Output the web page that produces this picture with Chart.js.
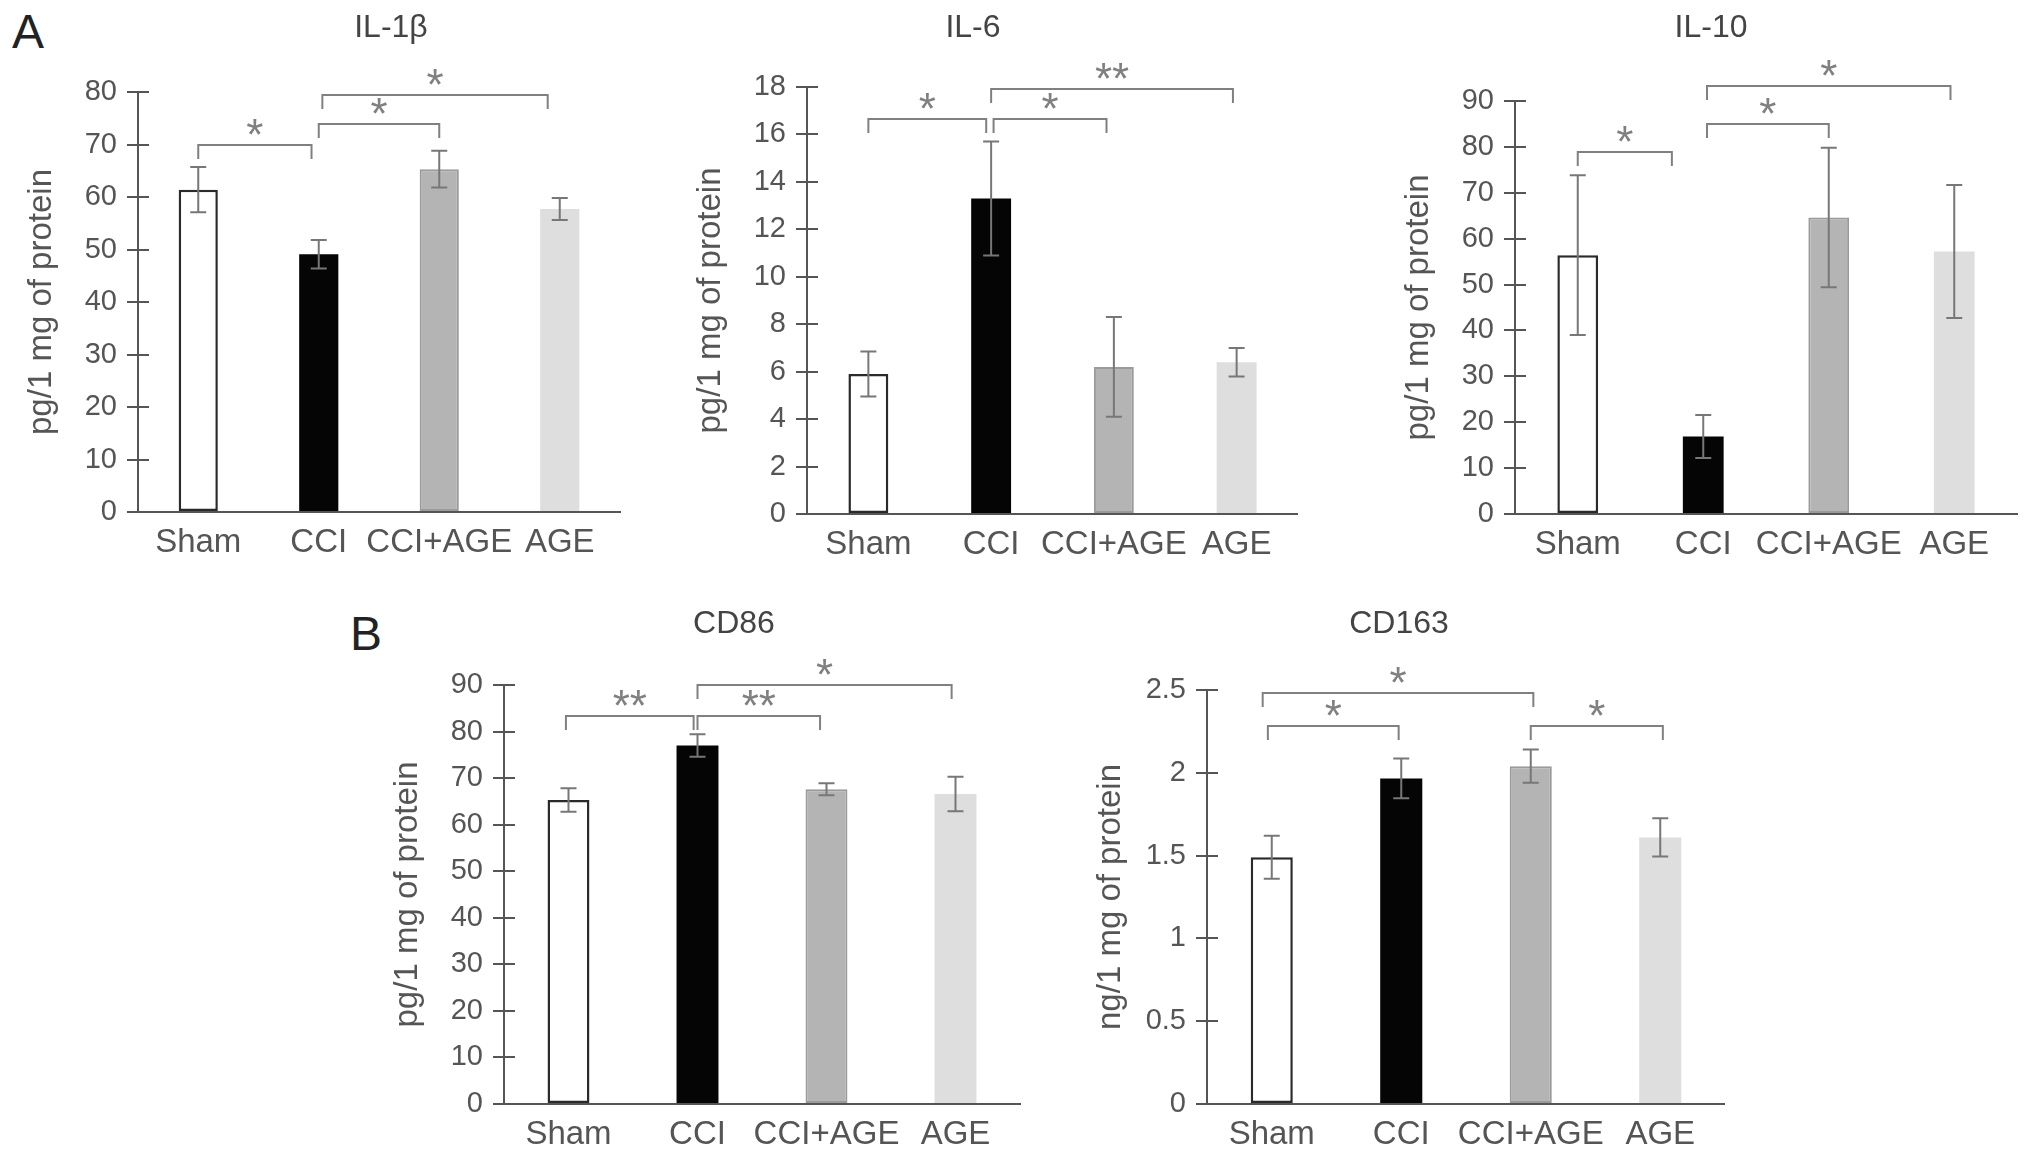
<!DOCTYPE html>
<html>
<head>
<meta charset="utf-8">
<script src="https://cdn.jsdelivr.net/npm/chart.js@4.4.1/dist/chart.umd.min.js"></script>
<style>
html, body { margin: 0; padding: 0; background: #fff; }
body { width: 2032px; height: 1158px; position: relative; overflow: hidden; font-family: "Liberation Sans", Arial, sans-serif; }
.panel { position: absolute; }
.tag { position: absolute; font-size: 48px; line-height: 48px; color: #222; }
</style>
</head>
<body>
<div class="tag" style="left:12px;top:8px">A</div>
<div class="tag" style="left:350px;top:610px">B</div>
<div class="panel"><canvas id="il1b"></canvas></div>
<div class="panel"><canvas id="il6"></canvas></div>
<div class="panel"><canvas id="il10"></canvas></div>
<div class="panel"><canvas id="cd86"></canvas></div>
<div class="panel"><canvas id="cd163"></canvas></div>
<script>
//----- DATA -----//
const groups = ['Sham', 'CCI', 'CCI+AGE', 'AGE'];

const il1bMean = [61.4, 49.1, 65.3, 57.7];
const il1bErr = [4.3, 2.7, 3.5, 2.1];

const il6Mean = [5.9, 13.3, 6.2, 6.4];
const il6Err = [0.95, 2.4, 2.1, 0.6];

const il10Mean = [56.4, 16.9, 64.6, 57.2];
const il10Err = [17.4, 4.7, 15.2, 14.5];

const cd86Mean = [65.3, 77.0, 67.6, 66.6];
const cd86Err = [2.5, 2.4, 1.3, 3.7];

const cd163Mean = [1.49, 1.966, 2.04, 1.61];
const cd163Err = [0.13, 0.12, 0.10, 0.115];

// significance brackets: [from, to, height, label, shiftFrom, shiftTo]
const il1bSig = [[0, 1, 70.0, '*', 0, -0.06], [1, 2, 73.9, '*'], [1, 3, 79.4, '*', 0.03, -0.1]];
const il6Sig = [[0, 1, 16.66, '*', 0, -0.04], [1, 2, 16.66, '*', 0.02, -0.06], [1, 3, 17.9, '**', 0, -0.03]];
const il10Sig = [[0, 1, 78.9, '*', 0, -0.25], [1, 2, 84.9, '*', 0.03, 0], [1, 3, 93.2, '*', 0.03, -0.03]];
const cd86Sig = [[0, 1, 83.4, '**', -0.02, -0.03], [1, 2, 83.4, '**', 0, -0.05], [1, 3, 90.1, '*', 0, -0.03]];
const cd163Sig = [[0, 1, 2.28, '*', -0.03, -0.02], [0, 2, 2.48, '*', -0.07, 0.02], [2, 3, 2.28, '*', 0, 0.02]];

//----- STYLE -----//
const fontName = '"Liberation Sans", Arial, sans-serif';
const axisColor = '#555';
const barFill = ['#ffffff', '#050505', '#b4b4b4', '#dedede'];
const barEdge = ['#2a2a2a', '#050505', '#9a9a9a', '#dedede'];
const barEdgeWidth = [2.5, 0, 2, 0];

//----- PLUGIN: inner ticks, error bars, brackets -----//
const extras = {
    id: 'extras',
    afterDatasetsDraw(chart, args, opts) {
        const ctx = chart.ctx;
        const x = chart.scales.x;
        const y = chart.scales.y;
        const area = chart.chartArea;
        const meta = chart.getDatasetMeta(0);
        const values = chart.data.datasets[0].data;
        ctx.save();

        // ticks cross the axis
        ctx.strokeStyle = axisColor;
        ctx.lineWidth = 2;
        y.ticks.forEach(t => {
            const py = Math.round(y.getPixelForValue(t.value));
            ctx.beginPath();
            ctx.moveTo(area.left, py);
            ctx.lineTo(area.left + 11, py);
            ctx.stroke();
        });

        // error bars
        ctx.strokeStyle = '#777';
        opts.errors.forEach((e, i) => {
            const bx = meta.data[i].x;
            const hi = y.getPixelForValue(values[i] + e);
            const lo = y.getPixelForValue(values[i] - e);
            ctx.beginPath();
            ctx.moveTo(bx, hi); ctx.lineTo(bx, lo);
            ctx.moveTo(bx - 8, hi); ctx.lineTo(bx + 8, hi);
            ctx.moveTo(bx - 8, lo); ctx.lineTo(bx + 8, lo);
            ctx.stroke();
        });

        // brackets with stars
        ctx.strokeStyle = '#808080';
        ctx.fillStyle = '#808080';
        ctx.font = '44px ' + fontName;
        ctx.textAlign = 'center';
        ctx.textBaseline = 'alphabetic';
        const m = ctx.measureText('*');
        const lift = (m.actualBoundingBoxAscent - m.actualBoundingBoxDescent) / 2;
        opts.sig.forEach(([a, b, v, label, da = 0, db = 0]) => {
            const x1 = x.getPixelForValue(a + da);
            const x2 = x.getPixelForValue(b + db);
            const py = Math.round(y.getPixelForValue(v));
            ctx.beginPath();
            ctx.moveTo(x1, py + 14);
            ctx.lineTo(x1, py);
            ctx.lineTo(x2, py);
            ctx.lineTo(x2, py + 14);
            ctx.stroke();
            ctx.fillText(label, (x1 + x2) / 2, py - 18 + lift);
        });
        ctx.restore();
    }
};

//----- CONFIG -----//
function makeChart(id, title, yTitle, means, errs, sig, yMax, yStep, box) {
    // y axis wide enough to leave room for its title, spare box on the right to centre the title
    const d = box.plotLeft + box.plotRight - 2 * box.titleX;
    const yWidth = Math.max(120, d);
    const spare = yWidth - d;
    const left = box.plotLeft - yWidth;
    const right = box.plotRight + spare;
    const height = box.zeroY - box.canvasTop + 60;

    const wrap = document.getElementById(id).parentNode;
    wrap.style.left = left + 'px';
    wrap.style.top = box.canvasTop + 'px';
    wrap.style.width = (right - left) + 'px';
    wrap.style.height = height + 'px';

    const titlePadTop = box.titleY - box.canvasTop - 19.2;
    const titlePadBottom = box.plotTop - box.canvasTop - titlePadTop - 38.4;

    return new Chart(document.getElementById(id), {
        type: 'bar',
        data: {
            labels: groups,
            datasets: [{
                data: means,
                backgroundColor: barFill,
                borderColor: barEdge,
                borderWidth: barEdgeWidth,
                borderSkipped: false,
                categoryPercentage: 1,
                barPercentage: 0.325
            }]
        },
        options: {
            responsive: true,
            maintainAspectRatio: false,
            animation: false,
            layout: { padding: 0 },
            plugins: {
                legend: { display: false },
                tooltip: { enabled: false },
                title: {
                    display: true,
                    text: title,
                    color: '#444',
                    font: { family: fontName, size: 32, weight: 'normal' },
                    padding: { top: titlePadTop, bottom: titlePadBottom }
                },
                extras: { errors: errs, sig: sig }
            },
            scales: {
                x: {
                    grid: { display: false, drawTicks: false },
                    border: { color: axisColor, width: 2 },
                    ticks: {
                        color: axisColor, padding: 11, autoSkip: false, maxRotation: 0, minRotation: 0,
                        font: { family: fontName, size: 33 }
                    },
                    afterFit: s => { s.height = 60; }
                },
                y: {
                    min: 0,
                    max: yMax,
                    grid: { drawOnChartArea: false, color: axisColor, lineWidth: 2, tickLength: 11 },
                    border: { color: axisColor, width: 2 },
                    ticks: {
                        stepSize: yStep, color: axisColor, padding: 10,
                        font: { family: fontName, size: 29 },
                        callback: v => String(+v.toFixed(2))
                    },
                    title: {
                        display: true,
                        text: yTitle,
                        color: axisColor,
                        font: { family: fontName, size: 33 },
                        padding: { top: yWidth - 96 - 19.8, bottom: 0 }
                    },
                    afterFit: s => { s.width = yWidth; }
                },
                spare: {
                    type: 'linear',
                    position: 'right',
                    display: spare > 0,
                    grid: { display: false },
                    border: { display: false },
                    ticks: { display: false },
                    afterFit: s => { s.width = spare; }
                }
            }
        },
        plugins: [extras]
    });
}

//----- RENDER -----//
const il1b = makeChart('il1b', 'IL-1β', 'pg/1 mg of protein', il1bMean, il1bErr, il1bSig, 80, 10,
    { plotLeft: 138, plotRight: 620, plotTop: 92, zeroY: 512, titleX: 391, titleY: 28, canvasTop: 0 });

const il6 = makeChart('il6', 'IL-6', 'pg/1 mg of protein', il6Mean, il6Err, il6Sig, 18, 2,
    { plotLeft: 807, plotRight: 1298, plotTop: 87, zeroY: 514, titleX: 973, titleY: 28, canvasTop: 0 });

const il10 = makeChart('il10', 'IL-10', 'pg/1 mg of protein', il10Mean, il10Err, il10Sig, 90, 10,
    { plotLeft: 1515, plotRight: 2017, plotTop: 101, zeroY: 514, titleX: 1711, titleY: 28, canvasTop: 0 });

const cd86 = makeChart('cd86', 'CD86', 'pg/1 mg of protein', cd86Mean, cd86Err, cd86Sig, 90, 10,
    { plotLeft: 504, plotRight: 1020, plotTop: 685, zeroY: 1104, titleX: 734, titleY: 624, canvasTop: 590 });

const cd163 = makeChart('cd163', 'CD163', 'ng/1 mg of protein', cd163Mean, cd163Err, cd163Sig, 2.5, 0.5,
    { plotLeft: 1207, plotRight: 1725, plotTop: 690, zeroY: 1104, titleX: 1399, titleY: 624, canvasTop: 590 });
</script>
</body>
</html>
